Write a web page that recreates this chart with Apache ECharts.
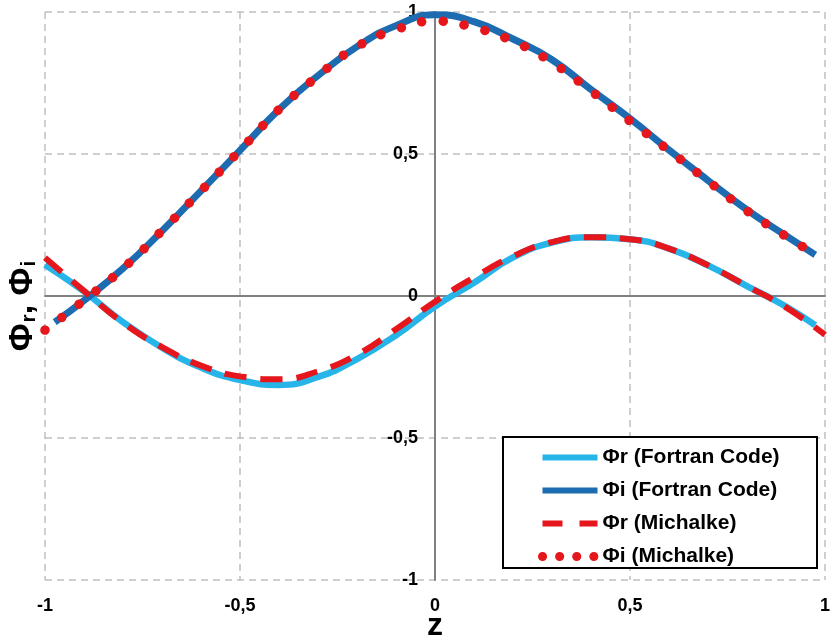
<!DOCTYPE html>
<html><head><meta charset="utf-8">
<script src="https://cdn.jsdelivr.net/npm/echarts@6/dist/echarts.min.js"></script>
<style>html,body{margin:0;padding:0;background:#fff}#c{width:830px;height:640px}</style>
</head><body><div id="c"></div>
<script>
// z positions
const zFortranR = [-1, -0.9, -0.8, -0.7, -0.6, -0.5, -0.4, -0.3, -0.2, -0.1, 0, 0.1, 0.2, 0.3, 0.4, 0.5, 0.6, 0.7, 0.8, 0.9, 0.975];
const zFortranI = [-0.975, -0.9, -0.8, -0.7, -0.6, -0.5, -0.4, -0.3, -0.2, -0.1, 0, 0.1, 0.2, 0.3, 0.4, 0.5, 0.6, 0.7, 0.8, 0.9, 0.975];
const zMichalkeR = [-1, -0.9, -0.8, -0.7, -0.6, -0.5, -0.4, -0.3, -0.2, -0.1, 0, 0.1, 0.2, 0.3, 0.4, 0.5, 0.6, 0.7, 0.8, 0.9, 1];
const zMichalkeI = [-1, -0.9, -0.8, -0.7, -0.6, -0.5, -0.4, -0.3, -0.2, -0.1, 0, 0.1, 0.2, 0.3, 0.4, 0.5, 0.6, 0.7, 0.8, 0.9, 0.98];
// values
const phiRFortran = [0.11, 0.016, -0.092, -0.182, -0.252, -0.296, -0.313, -0.285, -0.222, -0.138, -0.037, 0.047, 0.136, 0.188, 0.207, 0.2, 0.167, 0.108, 0.035, -0.037, -0.103];
const phiIFortran = [-0.092, -0.016, 0.097, 0.229, 0.37, 0.513, 0.657, 0.776, 0.878, 0.952, 0.99, 0.966, 0.905, 0.832, 0.727, 0.625, 0.514, 0.407, 0.303, 0.212, 0.145];
const phiRMichalke = [0.135, 0.018, -0.094, -0.18, -0.245, -0.283, -0.293, -0.265, -0.207, -0.117, -0.02, 0.065, 0.14, 0.19, 0.207, 0.2, 0.167, 0.108, 0.035, -0.04, -0.137];
const phiIMichalke = [-0.12, -0.015, 0.097, 0.23, 0.37, 0.513, 0.657, 0.775, 0.878, 0.938, 0.968, 0.945, 0.897, 0.822, 0.722, 0.616, 0.512, 0.405, 0.3, 0.21, 0.143];
const seriesNames = ['Φr (Fortran Code)', 'Φi (Fortran Code)', 'Φr (Michalke)', 'Φi (Michalke)'];
const tickValues = [-1, -0.5, 0, 0.5, 1];

const pair = (zs, vs) => zs.map((z, i) => [z, vs[i]]);
const fmt = v => String(v).replace('.', ',');
const FONT = '"Liberation Sans", Arial, sans-serif';
const lightBlue = '#27b4e8', darkBlue = '#1d6cb2', red = '#e5161c';

const chart = echarts.init(document.getElementById('c'), null, {renderer: 'canvas'});
chart.setOption({
  backgroundColor: '#ffffff',
  animation: false,
  grid: {left: 45, right: 5, top: 12, bottom: 60, containLabel: false, outerBoundsMode: 'none'},
  xAxis: [{
    type: 'value', min: tickValues[0], max: tickValues[4], interval: 0.5,
    axisLine: {show: false, onZero: false},
    axisTick: {show: false},
    axisLabel: {formatter: fmt, margin: 17, fontSize: 18, fontWeight: 'bold', color: '#000', fontFamily: FONT},
    splitLine: {show: true, lineStyle: {color: '#c0c0c0', width: 1.5, type: [7, 5]}},
    name: 'z', nameLocation: 'middle', nameGap: 30, nameMoveOverlap: false,
    nameTextStyle: {fontSize: 32, fontWeight: 'bold', color: '#000', fontFamily: FONT, lineHeight: 32}
  }, {
    type: 'value', min: -1, max: 1, position: 'bottom',
    axisLine: {show: true, onZero: true, onZeroAxisIndex: 0, lineStyle: {color: '#808080', width: 2}},
    axisTick: {show: false}, axisLabel: {show: false}, splitLine: {show: false}
  }],
  yAxis: [{
    type: 'value', min: tickValues[0], max: tickValues[4], interval: 0.5,
    position: 'left', offset: -390,
    axisLine: {show: true, onZero: false, lineStyle: {color: '#808080', width: 2}},
    axisTick: {show: false},
    axisLabel: {formatter: fmt, margin: 17, fontSize: 18, fontWeight: 'bold', color: '#000', fontFamily: FONT},
    splitLine: {show: true, lineStyle: {color: '#c0c0c0', width: 1.5, type: [7, 5]}}
  }],
  graphic: [{
    type: 'rect', z: 3,
    shape: {x: 503, y: 437, width: 314, height: 131},
    style: {fill: '#fff', stroke: '#000', lineWidth: 2}
  }, {
    type: 'text', x: 23, y: 306, rotation: Math.PI / 2, z: 3,
    style: {
      text: '{a|Φ}{s|r}{a|, Φ}{s|i}',
      align: 'center', verticalAlign: 'middle',
      fill: '#000',
      rich: {
        a: {fontSize: 34, fontWeight: 'bold', fontFamily: FONT, fill: '#000', lineHeight: 34, verticalAlign: 'top'},
        s: {fontSize: 21, fontWeight: 'bold', fontFamily: FONT, fill: '#000', lineHeight: 21, padding: [18, 0, 0, 1], verticalAlign: 'bottom'}
      }
    }
  }],
  legend: {
    orient: 'vertical', left: 538, top: 447, padding: 0, z: 5,
    itemWidth: 55, itemHeight: 20, itemGap: 12,
    itemStyle: {opacity: 0},
    textStyle: {fontSize: 21, fontWeight: 'bold', color: '#000', fontFamily: FONT, lineHeight: 20},
    data: [
      {name: seriesNames[0], lineStyle: {width: 6}},
      {name: seriesNames[1], lineStyle: {width: 6}},
      {name: seriesNames[2], lineStyle: {width: 6, type: [20, 17]}},
      {name: seriesNames[3], lineStyle: {width: 9, type: [0.1, 17], cap: 'round'}}
    ]
  },
  series: [{
    name: seriesNames[0], type: 'line', smooth: true, symbol: 'none',
    data: pair(zFortranR, phiRFortran), color: lightBlue,
    lineStyle: {color: lightBlue, width: 6.5}
  }, {
    name: seriesNames[1], type: 'line', smooth: true, symbol: 'none',
    data: pair(zFortranI, phiIFortran), color: darkBlue,
    lineStyle: {color: darkBlue, width: 7}
  }, {
    name: seriesNames[2], type: 'line', smooth: true, symbol: 'none',
    data: pair(zMichalkeR, phiRMichalke), color: red,
    lineStyle: {color: red, width: 6, type: [22, 14]}
  }, {
    name: seriesNames[3], type: 'line', smooth: true, symbol: 'none',
    data: pair(zMichalkeI, phiIMichalke), color: red,
    lineStyle: {color: red, width: 9.5, type: [0.1, 21.3], cap: 'round'}
  }]
});
</script></body></html>
